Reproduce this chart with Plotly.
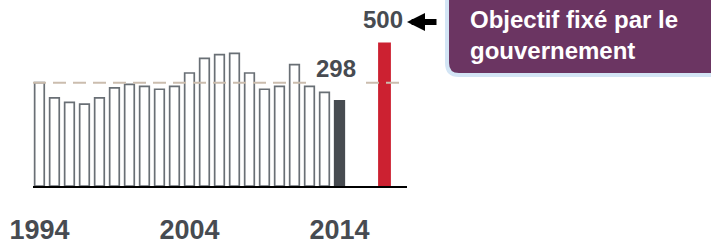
import plotly.graph_objects as go

# ---- data ----
years = list(range(1994, 2015))
values = [362, 309, 293, 287, 309, 344, 356, 349, 339, 349,
          396, 447, 460, 465, 396, 339, 349, 425, 349, 328, 298]
target_year = 2017
target_value = 500
reference_level = 362
tick_years = [1994, 2004, 2014]
label_last = "298"
label_target = "500"
callout_lines = ["Objectif fixé par le", "gouvernement"]

# ---- layout geometry (page pixels; body margin removed in the page) ----
W, H = 711, 244
L, R_EDGE = 33, 407          # plot area left/right
TOP, BASE = 30, 186          # plot area top/bottom
PW, PH = R_EDGE - L, BASE - TOP
X_RANGE = [1993.57, 2018.5]
Y_RANGE = [0, 546.6]


def xp(px):  # page px -> paper x
    return (px - L) / PW


def yp(py):  # page px -> paper y
    return (BASE - py) / PH


def x_of_px(px):
    return X_RANGE[0] + xp(px) * (X_RANGE[1] - X_RANGE[0])


FONT = "Liberation Sans, Arial, sans-serif"
DIGIT = "#474b51"

all_x = years + [target_year]
all_y = values + [target_value]
fill = ["white"] * (len(years) - 1) + ["#474b50", "#cc2131"]
line_c = ["#696f75"] * (len(years) - 1) + ["#474b50", "#cc2131"]
widths = [0.64] * len(years) + [0.74]

fig = go.Figure()
fig.add_trace(go.Bar(
    x=all_x, y=all_y, width=widths,
    marker=dict(color=fill, line=dict(color=line_c, width=1.7)),
    hoverinfo="x+y",
))

shapes = []
# dashed reference line (two segments, cleared around the label)
for x0, x1 in [(X_RANGE[0], x_of_px(312)), (x_of_px(366), x_of_px(405))]:
    shapes.append(dict(type="line", xref="x", yref="y",
                       x0=x0, x1=x1, y0=reference_level, y1=reference_level,
                       line=dict(color="#cbbdae", width=2, dash="13px,7px"),
                       layer="above"))

# rounded callout box
xl, xr = xp(447), xp(730)
yt, yb = yp(-12), yp(75)
rx, ry = 12 / PW, 12 / PH
path = (f"M {xl},{yt} L {xl},{yb + ry} Q {xl},{yb} {xl + rx},{yb} "
        f"L {xr},{yb} L {xr},{yt} Z")
shapes.append(dict(type="path", xref="paper", yref="paper", path=path,
                   fillcolor="#6b3562", line=dict(color="#d3e5f5", width=4),
                   layer="above"))

annotations = [
    dict(x=2014, y=410, xref="x", yref="y", text=label_last, showarrow=False,
         xshift=-3, font=dict(family=FONT, size=24, color=DIGIT, weight="bold")),
    dict(x=target_year, y=yp(19), xref="x", yref="paper", text=label_target,
         showarrow=False, yanchor="middle", xshift=-2,
         font=dict(family=FONT, size=24, color=DIGIT, weight="bold")),
    dict(x=xp(407), y=yp(22), xref="paper", yref="paper", text="",
         showarrow=True, ax=31, ay=0, arrowhead=2, arrowwidth=6,
         arrowsize=0.6, arrowcolor="black", standoff=0),
    dict(x=xp(468), y=yp(34.5), xref="paper", yref="paper",
         text="<br>".join(callout_lines), showarrow=False,
         xanchor="left", yanchor="middle", align="left",
         font=dict(family=FONT, size=24, color="white", weight="bold")),
]

fig.update_layout(
    width=W, height=H, autosize=False,
    margin=dict(l=L, r=W - R_EDGE, t=TOP, b=H - BASE, pad=0),
    paper_bgcolor="white", plot_bgcolor="white",
    showlegend=False,
    shapes=shapes, annotations=annotations,
    xaxis=dict(range=X_RANGE, tickvals=tick_years, ticktext=[str(t) for t in tick_years],
               showgrid=False, zeroline=False, showline=True, automargin=False,
               linecolor="black", linewidth=2, ticks="",
               ticklabelstandoff=19,
               tickfont=dict(family=FONT, size=27, color=DIGIT, weight="bold")),
    yaxis=dict(range=Y_RANGE, visible=False, showgrid=False, zeroline=False,
               automargin=False),
)

fig.write_html("out.html",
               config={"displayModeBar": False},
               post_script="document.body.style.margin='0';"
                           "document.body.style.overflow='hidden';")
